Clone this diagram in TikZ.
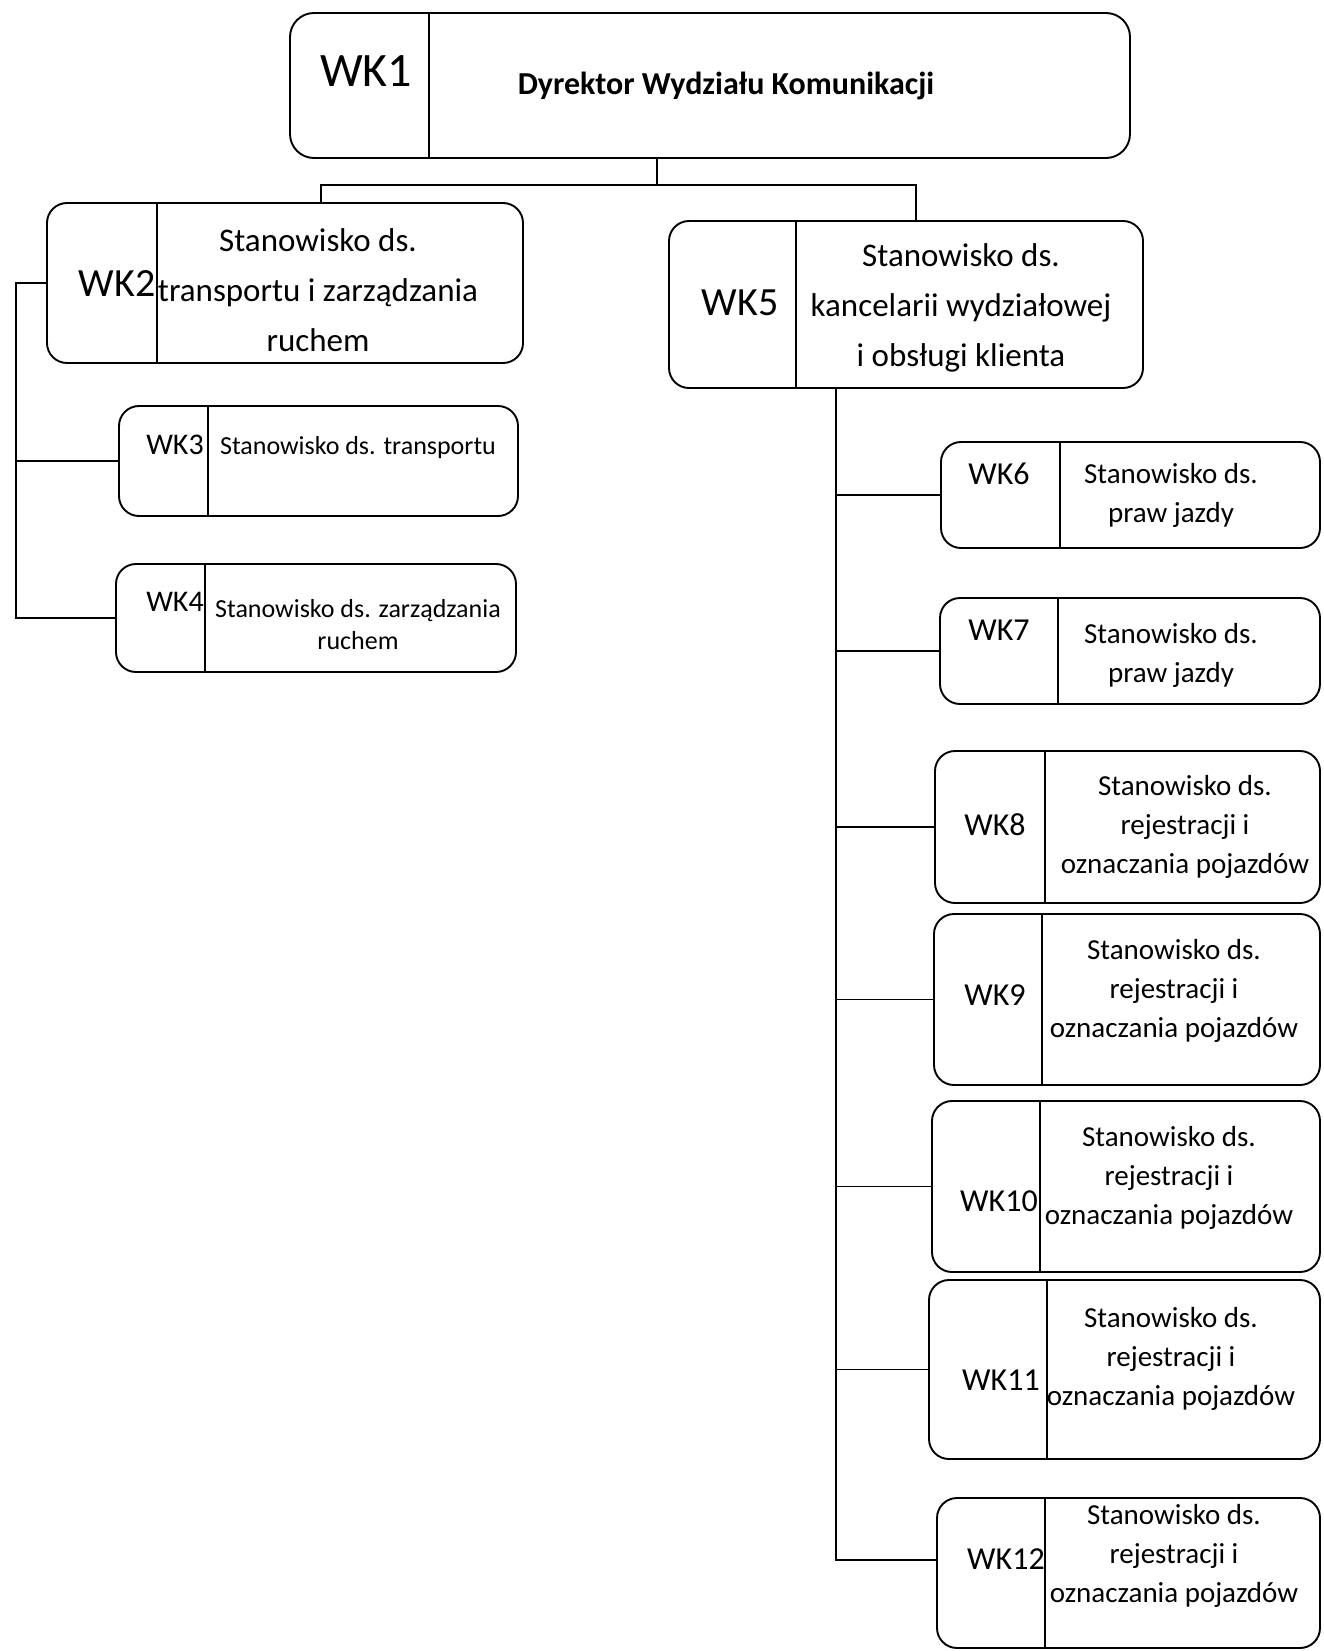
\documentclass[tikz,border=0pt]{standalone}
\usepackage{fontspec}
\setmainfont{Carlito}
\usepackage{tikz}
\usetikzlibrary{positioning, calc}
\tikzset{
    box_unit/.style={rectangle, draw, rounded corners=20pt, line width=1.9pt},
    div_line/.style={line width=1.5pt},
    link/.style={line width=1.5pt},
    id_big/.style={font=\fontsize{40}{46}\selectfont},
    id_small/.style={font=\fontsize{30}{36}\selectfont},
    id_right/.style={font=\fontsize{32}{38}\selectfont},
    txt_big/.style={align=center, font=\fontsize{33}{50}\selectfont},
    txt_small/.style={align=center, font=\fontsize{26}{32}\selectfont},
    txt_right/.style={align=center, font=\fontsize{29}{39}\selectfont}
}
\begin{document}
\begin{tikzpicture}[x=1pt, y=-1pt]
    \useasboundingbox (0,0) rectangle (1323,1651);

    % boxes
    \node (wk1) [box_unit, rounded corners=24pt, minimum width=840pt, minimum height=145pt] at (710,85.5) {};
    \node (wk2) [box_unit, minimum width=476pt, minimum height=160pt] at (285,283) {};
    \node (wk3) [box_unit, minimum width=399pt, minimum height=110pt] at (318.5,461) {};
    \node (wk4) [box_unit, minimum width=400pt, minimum height=108pt] at (316,618) {};
    \node (wk5) [box_unit, minimum width=474pt, minimum height=167pt] at (906,304.5) {};
    \node (wk6) [box_unit, minimum width=379pt, minimum height=106pt] at (1130.5,495) {};
    \node (wk7) [box_unit, minimum width=380pt, minimum height=106pt] at (1130,651) {};
    \node (wk8) [box_unit, minimum width=385pt, minimum height=152pt] at (1127.5,827) {};
    \node (wk9) [box_unit, minimum width=386pt, minimum height=171pt] at (1127,999.5) {};
    \node (wk10) [box_unit, minimum width=388pt, minimum height=171pt] at (1126,1186.5) {};
    \node (wk11) [box_unit, minimum width=391pt, minimum height=179pt] at (1124.5,1369.5) {};
    \node (wk12) [box_unit, minimum width=383pt, minimum height=150pt] at (1128.5,1573) {};

    % dividers
    \foreach \n/\d in {1/140, 2/111, 3/90, 4/90, 5/128, 6/120, 7/119, 8/111, 9/109, 10/109, 11/119, 12/109}
        \draw [div_line] ([xshift=\d pt]wk\n.north west) -- ([xshift=\d pt]wk\n.south west);

    % labels
    \node (wk1_id) [font=\fontsize{48}{56}\selectfont] at (366,71) {WK1};
    \node (wk1_txt) [font=\bfseries\fontsize{32}{38}\selectfont] at (726,86) {Dyrektor Wydziału Komunikacji};
    \node (wk2_id) [id_big] at (117,284) {WK2};
    \node (wk2_txt) [txt_big] at (318,290) {Stanowisko ds.\\transportu i zarządzania\\ruchem};
    \node (wk3_id) [id_small] at (175,445) {WK3};
    \node (wk3_txt) [txt_small] at (358,448) {Stanowisko ds. transportu};
    \node (wk4_id) [id_small] at (175,602) {WK4};
    \node (wk4_txt) [txt_small] at (358,625) {Stanowisko ds. zarządzania\\ruchem};
    \node (wk5_id) [id_big] at (740,303) {WK5};
    \node (wk5_txt) [txt_big] at (961,308) {Stanowisko ds.\\kancelarii wydziałowej\\i obsługi klienta};
    \node (wk6_id) [id_right] at (999,474) {WK6};
    \node (wk6_txt) [txt_right] at (1171,495) {Stanowisko ds.\\praw jazdy};
    \node (wk7_id) [id_right] at (999,630) {WK7};
    \node (wk7_txt) [txt_right] at (1171,655) {Stanowisko ds.\\praw jazdy};
    \node (wk8_id) [id_right] at (995,825) {WK8};
    \node (wk8_txt) [txt_right] at (1185,827) {Stanowisko ds.\\rejestracji i\\oznaczania pojazdów};
    \node (wk9_id) [id_right] at (995,995) {WK9};
    \node (wk9_txt) [txt_right] at (1174,991) {Stanowisko ds.\\rejestracji i\\oznaczania pojazdów};
    \node (wk10_id) [id_right] at (999,1201) {WK10};
    \node (wk10_txt) [txt_right] at (1169,1178) {Stanowisko ds.\\rejestracji i\\oznaczania pojazdów};
    \node (wk11_id) [id_right] at (1001,1380) {WK11};
    \node (wk11_txt) [txt_right] at (1171,1359) {Stanowisko ds.\\rejestracji i\\oznaczania pojazdów};
    \node (wk12_id) [id_right] at (1006,1559) {WK12};
    \node (wk12_txt) [txt_right] at (1174,1556) {Stanowisko ds.\\rejestracji i\\oznaczania pojazdów};

    % connectors
    \coordinate (bus_top) at (657,185);
    \coordinate (bus_left) at (16,0);
    \coordinate (bus_right) at (836,0);
    \coordinate (wk12_in) at ([yshift=13pt]wk12.west);
    \draw [link] (wk1.south -| bus_top) -- (bus_top);
    \draw [link] ([xshift=36pt]wk2.north) |- (bus_top) -| ([xshift=10pt]wk5.north);
    \draw [link] (wk2.west) -| (bus_left |- wk4.west) -- (wk4.west);
    \draw [link] (bus_left |- wk3.west) -- (wk3.west);
    \draw [link] (wk5.south -| bus_right) |- (wk12_in);
    \foreach \n in {6,...,11}
        \draw [link] (bus_right |- wk\n.west) -- (wk\n.west);
\end{tikzpicture}
\end{document}
